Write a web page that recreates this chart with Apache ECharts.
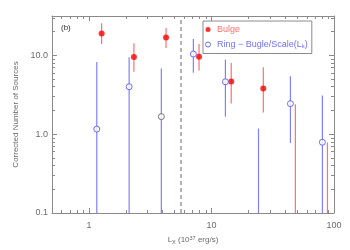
<!DOCTYPE html>
<html><head><meta charset="utf-8">
<script src="https://cdn.jsdelivr.net/npm/echarts@6/dist/echarts.min.js"></script>
<style>html,body{margin:0;padding:0;background:#fff}#c{width:350px;height:250px}</style>
</head><body><div id="c"></div>
<script>
// Bulge (filled red)
const bulgeX  = [1.27, 2.33, 4.26, 7.92, 14.5, 26.5, 48.4, 88.4];
const bulgeY  = [18.9, 9.55, 16.9, 9.63, 4.66, 3.80, null, null];
const bulgeLo = [13.9, 6.18, 12.4, 6.41, 2.46, 1.88, 0.1, 0.1];
const bulgeHi = [25.6, 14.3, 22.2, 13.9, 8.0, 7.06, 2.39, 0.786];
// Ring - Bulge/Scale (open blue)
const ringX  = [1.16, 2.13, 3.9, 7.12, 13.0, 24.2, 44.1, 80.4];
const ringY  = [1.16, 4.0, 1.67, 10.4, 4.62, null, 2.44, 0.79];
const ringLo = [0.1, 0.1, 0.1, 6.0, 1.67, 0.1, 0.77, 0.1];
const ringHi = [8.26, 9.44, 6.8, 16.1, 8.83, 1.18, 5.43, 3.1];
const ringDarkIdx = 2;
const dashX = 5.6;
// ticks
const xMajor = [1, 10, 100];
const xMinor = [0.5,0.6,0.7,0.8,0.9,2,3,4,5,6,7,8,9,20,30,40,50,60,70,80,90];
const yMajor = [0.1, 1, 10];
const yMinor = [0.2,0.3,0.4,0.5,0.6,0.7,0.8,0.9,2,3,4,5,6,7,8,9,20,30];
const xMin = 0.5, xMax = 100, yMin = 0.1, yMax = 31.6;

const FONT = 'Liberation Sans';
const AX = '#8a8a8a', LBL = '#6a6a6a';
const BLUE = '#4a4aff';

function xa(pos, vals, len, main){
  return {type:'log', logBase:10, min:xMin, max:xMax, position:pos,
    axisLine:{show:main, lineStyle:{color:AX, width:1}},
    axisTick:{show:true, inside:true, length:len, customValues:vals, lineStyle:{color:AX}},
    axisLabel:{show:false}, splitLine:{show:false}};
}
function ya(pos, vals, len, main){
  return {type:'log', logBase:10, min:yMin, max:yMax, position:pos,
    axisLine:{show:main, lineStyle:{color:AX, width:1}},
    axisTick:{show:true, inside:true, length:len, customValues:vals, lineStyle:{color:AX}},
    axisLabel:{show:false}, splitLine:{show:false}};
}
const x0 = xa('bottom', xMajor, 5, true);
x0.axisLabel = {show:true, customValues:xMajor, color:LBL, fontSize:9, fontFamily:FONT, margin:8,
  formatter:v=>String(Math.round(v))};
x0.name = '{a|L}{s|X}{a| (10}{p|37}{a| erg/s)}';
x0.nameLocation = 'middle'; x0.nameGap = 22;
x0.nameTextStyle = {rich:{
  a:{color:LBL, fontSize:8, fontFamily:FONT},
  s:{color:LBL, fontSize:5.5, fontFamily:FONT, verticalAlign:'bottom', padding:[4,0,0,0]},
  p:{color:LBL, fontSize:5.5, fontFamily:FONT, verticalAlign:'top', padding:[0,0,4,0]}}};
const y0 = ya('left', yMajor, 5, true);
y0.axisLabel = {show:true, customValues:yMajor, color:LBL, fontSize:9, fontFamily:FONT, margin:4,
  formatter:v=>Number(v).toFixed(1)};
y0.name = 'Corrected Number of Sources';
y0.nameLocation = 'middle'; y0.nameGap = 30;
y0.nameTextStyle = {color:LBL, fontSize:8, fontFamily:FONT};

function errData(xs, lo, hi){ return xs.map((x,i)=>[x, lo[i], hi[i]]); }
function ptData(xs, ys){ const o=[]; xs.forEach((x,i)=>{ if(ys[i]!=null) o.push({value:[x,ys[i]], idx:i}); }); return o; }
function errSeries(name, data, color){
  return {type:'custom', name:name, data:data, z:2, silent:true,
    encode:{x:0, y:[1,2]},
    renderItem:(p,api)=>{
      const a=api.coord([api.value(0),api.value(1)]);
      const b=api.coord([api.value(0),api.value(2)]);
      return {type:'line', shape:{x1:a[0],y1:a[1],x2:b[0],y2:b[1]}, style:{stroke:color, lineWidth:1.2}};
    }};
}
const ringPts = ptData(ringX, ringY).map(d=>{
  const o={value:d.value};
  if(d.idx===ringDarkIdx) o.itemStyle={borderColor:'#555'};
  return o;
});

const chart = echarts.init(document.getElementById('c'), null, {renderer:'canvas'});
chart.setOption({
  animation:false,
  backgroundColor:'#fff',
  grid:{left:52, right:16, top:16, bottom:35},
  xAxis:[x0, xa('bottom', xMinor, 3, false), xa('top', xMajor, 5, true), xa('top', xMinor, 3, false)],
  yAxis:[y0, ya('left', yMinor, 3, false), ya('right', yMajor, 5, true), ya('right', yMinor, 3, false)],
  legend:{orient:'vertical', left:203, top:21, padding:[4,4,4,2], itemGap:6,
    borderColor:'#8a8a8a', borderWidth:1, borderRadius:0, itemWidth:8, itemHeight:5,
    data:[
      {name:'Bulge', icon:'circle', itemStyle:{color:'#ff0000'}, textStyle:{color:'#ff6f6f'}},
      {name:'Ring', icon:'circle', itemStyle:{color:'#fff', borderColor:BLUE, borderWidth:1}, textStyle:{color:'#7070ff'}}
    ],
    formatter:n=> n==='Ring' ? '{a|Ring − Bugle/Scale(L}{s|k}{a|)}' : n,
    textStyle:{fontSize:9, fontFamily:FONT, rich:{
      a:{color:'#7070ff', fontSize:9, fontFamily:FONT},
      s:{color:'#7070ff', fontSize:6, fontFamily:FONT, verticalAlign:'bottom', padding:[4,0,0,0]}}}
  },
  graphic:[{type:'text', left:61, top:24, style:{text:'(b)', fontSize:8, fontFamily:FONT, fill:'#333'}}],
  series:[
    errSeries('ringErr', errData(ringX, ringLo, ringHi), '#8080ff'),
    errSeries('bulgeErr', errData(bulgeX, bulgeLo, bulgeHi), '#ff7070'),
    {type:'scatter', name:'Bulge', data:ptData(bulgeX, bulgeY).map(d=>d.value), symbol:'circle', symbolSize:6,
      itemStyle:{color:'#ff0000'}, z:4,
      markLine:{silent:true, symbol:'none', label:{show:false},
        lineStyle:{color:'#9a9a9a', type:[4,3], width:1.5}, data:[{xAxis:dashX}]}},
    {type:'scatter', name:'Ring', data:ringPts, symbol:'circle', symbolSize:6,
      itemStyle:{color:'#fff', borderColor:BLUE, borderWidth:1}, z:4}
  ]
});
</script></body></html>
